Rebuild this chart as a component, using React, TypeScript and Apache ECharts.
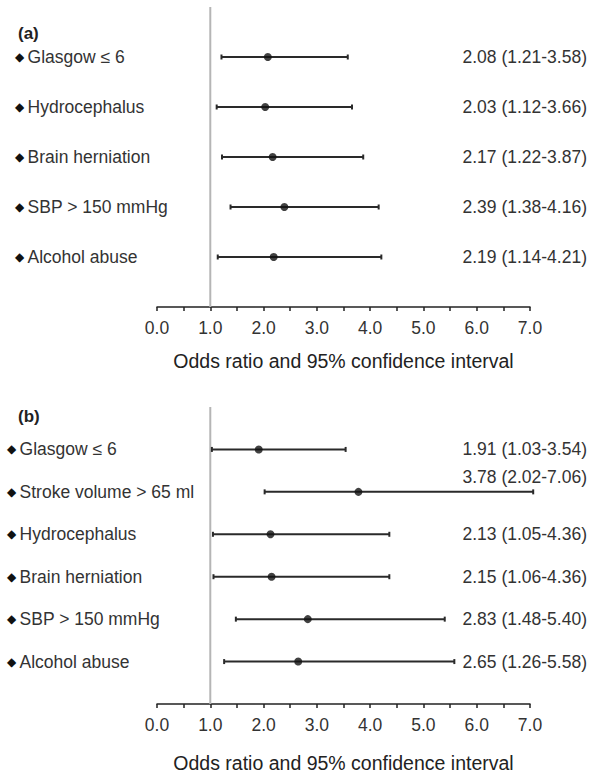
import React, { useEffect, useRef } from "react";
import * as echarts from "echarts";

const labelsA = ["Glasgow ≤ 6", "Hydrocephalus", "Brain herniation", "SBP > 150 mmHg", "Alcohol abuse"];
const orA = [2.08, 2.03, 2.17, 2.39, 2.19];
const loA = [1.21, 1.12, 1.22, 1.38, 1.14];
const hiA = [3.58, 3.66, 3.87, 4.16, 4.21];

const labelsB = ["Glasgow ≤ 6", "Stroke volume > 65 ml", "Hydrocephalus", "Brain herniation", "SBP > 150 mmHg", "Alcohol abuse"];
const orB = [1.91, 3.78, 2.13, 2.15, 2.83, 2.65];
const loB = [1.03, 2.02, 1.05, 1.06, 1.48, 1.26];
const hiB = [3.54, 7.06, 4.36, 4.36, 5.4, 5.58];

const xTicks = [0, 1, 2, 3, 4, 5, 6, 7];
const axisName = "Odds ratio and 95% confidence interval";
const refValue = 1;

const FONT = "Liberation Sans, Arial, sans-serif";
const TXT = "#333";
const FS = 17.5;

function fmtOR(o: number, l: number, h: number) {
  return `${o.toFixed(2)} (${l.toFixed(2)}-${h.toFixed(2)})`;
}

export default function App() {
  const ref = useRef<HTMLDivElement>(null);
  useEffect(() => {
    if (!ref.current) return;
    const chart = echarts.init(ref.current, null, { renderer: "svg" });
    const panels = [
      { labels: labelsA, or: orA, lo: loA, hi: hiA, top: 7, height: 300, labelMargin: 142, nameGap: 44, raised: -1 },
      { labels: labelsB, or: orB, lo: loB, hi: hiB, top: 407, height: 304, labelMargin: 150, nameGap: 49, raised: 1 },
    ];
    const grid: any[] = [];
    const xAxis: any[] = [];
    const yAxis: any[] = [];
    const series: any[] = [];
    panels.forEach((p, gi) => {
      const n = p.labels.length;
      grid.push({ left: 157, width: 373, top: p.top, height: p.height });
      xAxis.push({
        type: "value",
        gridIndex: gi,
        min: xTicks[0],
        max: xTicks[xTicks.length - 1],
        interval: 1,
        axisLine: { show: true, lineStyle: { color: "#222", width: 1.5 } },
        axisTick: { show: true, length: 4, lineStyle: { color: "#222", width: 1.5 } },
        minorTick: { show: true, splitNumber: 2, length: 4, lineStyle: { color: "#222", width: 1.5 } },
        splitLine: { show: false },
        axisLabel: {
          formatter: (v: number) => v.toFixed(1),
          color: TXT,
          fontSize: FS,
          fontFamily: FONT,
          margin: 12,
        },
        name: axisName,
        nameLocation: "middle",
        nameGap: p.nameGap,
        nameTextStyle: { color: "#222", fontSize: 19.5, fontFamily: FONT },
      });
      const yBase = {
        type: "value",
        gridIndex: gi,
        min: 0,
        max: n + 1,
        interval: 1,
        axisLine: { show: false },
        axisTick: { show: false },
        splitLine: { show: false },
      };
      yAxis.push({
        ...yBase,
        position: "left",
        axisLabel: {
          align: "left",
          margin: p.labelMargin,
          formatter: (v: number) => {
            const idx = n - v;
            if (idx < 0 || idx >= n || v === 0) return "";
            return `{d|◆} {t|${p.labels[idx]}}`;
          },
          rich: {
            d: { fontSize: 12, fontFamily: "DejaVu Sans", color: "#111" },
            t: { fontSize: FS, fontFamily: FONT, color: TXT },
          },
        },
      });
      yAxis.push({
        ...yBase,
        position: "right",
        axisLabel: {
          align: "right",
          margin: 57,
          formatter: (v: number) => {
            const idx = n - v;
            if (idx < 0 || idx >= n || v === 0) return "";
            const s = fmtOR(p.or[idx], p.lo[idx], p.hi[idx]);
            return idx === p.raised ? `{up|${s}}` : `{t|${s}}`;
          },
          rich: {
            t: { fontSize: FS, fontFamily: FONT, color: TXT },
            up: { fontSize: FS, fontFamily: FONT, color: TXT, padding: [0, 0, 30, 0] },
          },
        },
      });
      const yLeft = gi * 2;
      series.push({
        type: "line",
        xAxisIndex: gi,
        yAxisIndex: yLeft,
        data: [
          [refValue, 0],
          [refValue, n + 1],
        ],
        symbol: "none",
        lineStyle: { color: "#b5b5b5", width: 2 },
        z: 1,
        silent: true,
      });
      series.push({
        type: "custom",
        xAxisIndex: gi,
        yAxisIndex: yLeft,
        data: p.labels.map((_, i) => [p.lo[i], p.hi[i], n - i]),
        renderItem: (params: any, api: any) => {
          const y = api.value(2);
          const a = api.coord([api.value(0), y]);
          const b = api.coord([api.value(1), y]);
          const st = { stroke: "#2a2a2a", lineWidth: 2 };
          return {
            type: "group",
            children: [
              { type: "line", shape: { x1: a[0], y1: a[1], x2: b[0], y2: b[1] }, style: st },
              { type: "line", shape: { x1: a[0], y1: a[1] - 2.5, x2: a[0], y2: a[1] + 2.5 }, style: st },
              { type: "line", shape: { x1: b[0], y1: b[1] - 2.5, x2: b[0], y2: b[1] + 2.5 }, style: st },
            ],
          };
        },
        z: 2,
      });
      series.push({
        type: "scatter",
        xAxisIndex: gi,
        yAxisIndex: yLeft,
        data: p.labels.map((_, i) => [p.or[i], n - i]),
        symbol: "circle",
        symbolSize: 8,
        itemStyle: { color: "#111" },
        z: 3,
      });
    });
    chart.setOption({
      animation: false,
      backgroundColor: "#fff",
      textStyle: { fontFamily: FONT },
      title: [
        { text: "(a)", left: 13, top: 20, textStyle: { fontSize: 17, fontWeight: "bold", color: "#222", fontFamily: FONT } },
        { text: "(b)", left: 13, top: 403, textStyle: { fontSize: 17, fontWeight: "bold", color: "#222", fontFamily: FONT } },
      ],
      grid,
      xAxis,
      yAxis,
      series,
    });
    return () => chart.dispose();
  }, []);
  return <div ref={ref} style={{ position: "absolute", left: 0, top: 0, width: 592, height: 774 }} />;
}
